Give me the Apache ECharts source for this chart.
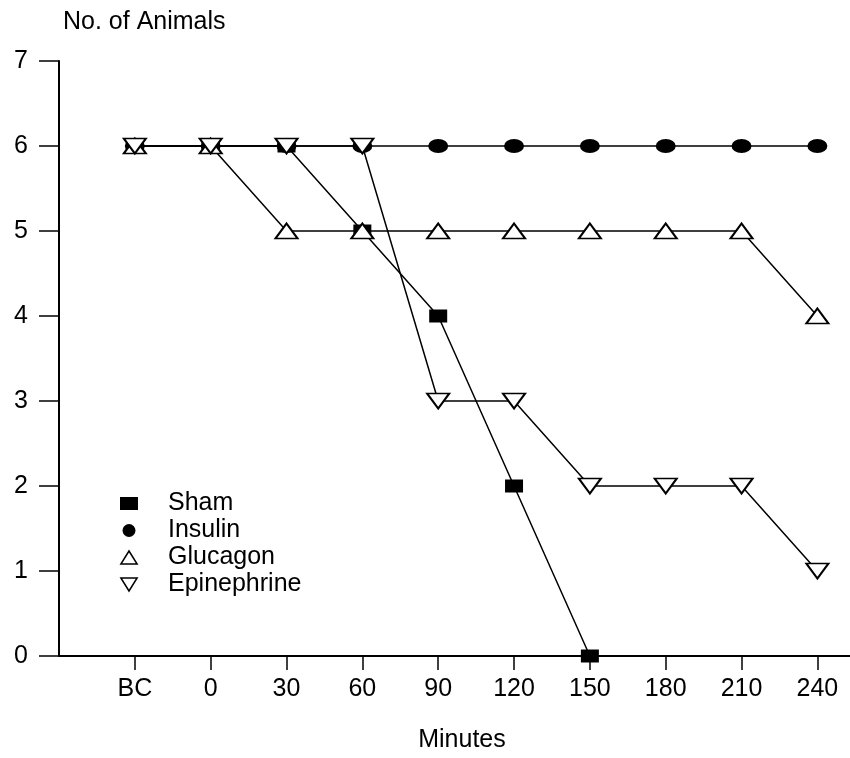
<!DOCTYPE html>
<html>
<head>
<meta charset="utf-8">
<script src="https://cdn.jsdelivr.net/npm/echarts@6/dist/echarts.min.js"></script>
<style>html,body{margin:0;padding:0;background:#fff}#c{width:850px;height:758px}</style>
</head>
<body>
<div id="c"></div>
<script>
const categories = ['BC', '0', '30', '60', '90', '120', '150', '180', '210', '240'];
const shamValues = [6, 6, 6, 5, 4, 2, 0];
const insulinValues = [6, 6, 6, 6, 6, 6, 6, 6, 6, 6];
const glucagonValues = [6, 6, 5, 5, 5, 5, 5, 5, 5, 4];
const epinephrineValues = [6, 6, 6, 6, 3, 3, 2, 2, 2, 1];
const yTickValues = [0, 1, 2, 3, 4, 5, 6, 7];

const FONT = 'Liberation Sans';
const toPts = arr => arr.map((v, i) => [i, v]);
const catIdx = categories.map((c, i) => i);
const ELLIPSE = 'path://M0,5 A5,5 0 1,0 10,5 A5,5 0 1,0 0,5 Z';

const chart = echarts.init(document.getElementById('c'), null, {renderer: 'canvas'});
chart.setOption({
  animation: false,
  backgroundColor: '#fff',
  title: {
    text: 'No. of Animals', left: 58, top: 5,
    textStyle: {fontFamily: FONT, fontSize: 25, fontWeight: 'normal', color: '#000'}
  },
  legend: {
    orient: 'vertical', left: 115, top: 486, itemGap: 2,
    itemWidth: 18, itemHeight: 13,
    textStyle: {fontFamily: FONT, fontSize: 25, color: '#000', padding: [0, 0, 0, 25]},
    data: [
      {name: 'Sham', icon: 'rect', itemStyle: {color: '#000', borderWidth: 0}},
      {name: 'Insulin', icon: ELLIPSE, itemStyle: {color: '#000', borderWidth: 0}},
      {name: 'Glucagon', icon: 'path://M5,0 L10,8 L0,8 Z', itemStyle: {color: '#fff', borderColor: '#000', borderWidth: 1.5}},
      {name: 'Epinephrine', icon: 'path://M0,0 L10,0 L5,8 Z', itemStyle: {color: '#fff', borderColor: '#000', borderWidth: 1.5}}
    ]
  },
  grid: {left: 59, right: 0, top: 61, bottom: 95, containLabel: false},
  xAxis: {
    type: 'value', min: -1, max: 9.43,
    name: 'Minutes', nameLocation: 'middle', nameGap: 72,
    nameTextStyle: {fontFamily: FONT, fontSize: 25, color: '#000', padding: [0, 0, 0, 15]},
    axisLine: {onZero: false, lineStyle: {color: '#000', width: 2}},
    axisTick: {customValues: catIdx, length: 14, lineStyle: {color: '#000', width: 1.5}},
    axisLabel: {customValues: catIdx, margin: 21, fontFamily: FONT, fontSize: 25, color: '#000',
      formatter: v => categories[Math.round(v)]},
    splitLine: {show: false}
  },
  yAxis: {
    type: 'value', min: 0, max: 7, interval: 1,
    axisLine: {show: true, onZero: false, lineStyle: {color: '#000', width: 2}},
    axisTick: {show: true, length: 20, lineStyle: {color: '#000', width: 1.5}},
    axisLabel: {margin: 31, fontFamily: FONT, fontSize: 25, color: '#000',
      formatter: v => yTickValues.includes(v) ? String(v) : ''},
    splitLine: {show: false}
  },
  series: [
    {name: 'Sham', type: 'line', data: toPts(shamValues), symbol: 'rect', symbolSize: [18, 13],
      showAllSymbol: true, lineStyle: {color: '#000', width: 1.5}, itemStyle: {color: '#000'}, z: 2},
    {name: 'Insulin', type: 'line', data: toPts(insulinValues), symbol: ELLIPSE, symbolSize: [20, 14],
      showAllSymbol: true, lineStyle: {color: '#000', width: 1.5}, itemStyle: {color: '#000'}, z: 2},
    {name: 'Glucagon', type: 'line', data: toPts(glucagonValues), symbol: 'emptyTriangle', symbolSize: [22, 15],
      showAllSymbol: true, lineStyle: {color: '#000', width: 1.5}, itemStyle: {color: '#000', borderWidth: 1.5}, z: 3},
    {name: 'Epinephrine', type: 'line', data: toPts(epinephrineValues), symbol: 'emptyTriangle', symbolRotate: 180,
      symbolSize: [22, 15], showAllSymbol: true, lineStyle: {color: '#000', width: 1.5}, itemStyle: {color: '#000', borderWidth: 1.5}, z: 3}
  ]
});
</script>
</body>
</html>
